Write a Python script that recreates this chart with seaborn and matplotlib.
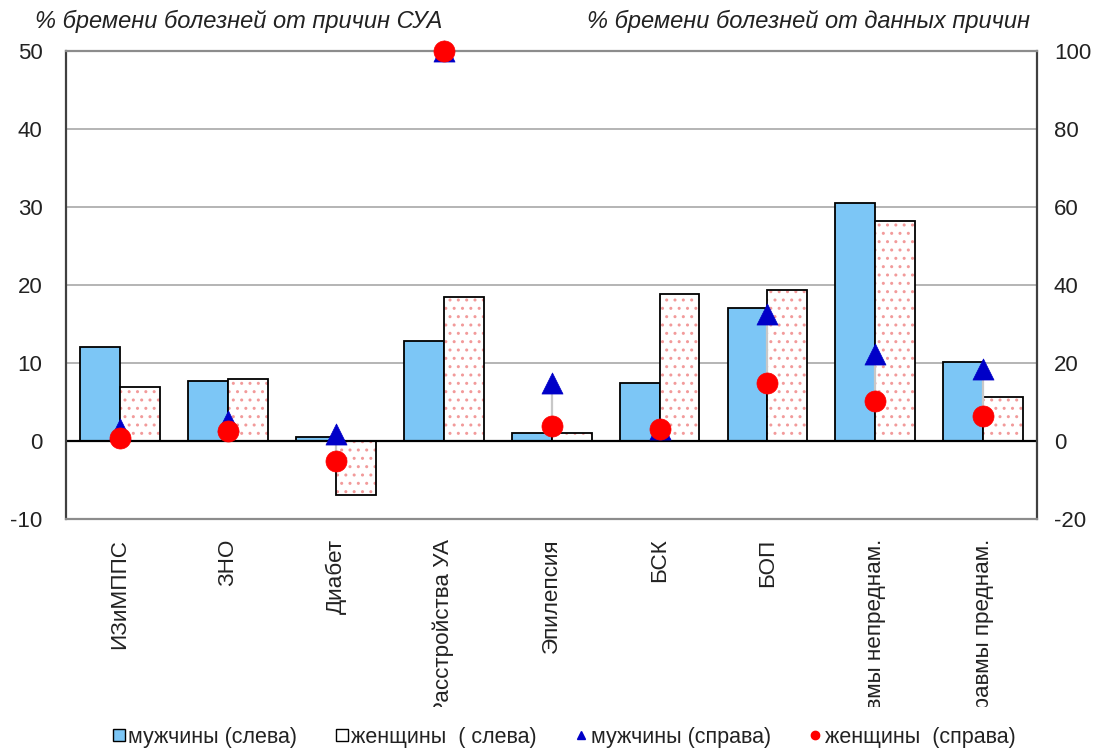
import matplotlib
matplotlib.use("Agg")
import matplotlib.pyplot as plt
from matplotlib.lines import Line2D
from matplotlib.patches import Rectangle
from matplotlib.transforms import Bbox
import numpy as np
import pandas as pd
import seaborn as sns

causes = ["ИЗиМППС", "ЗНО", "Диабет", "Расстройства УА", "Эпилепсия",
          "БСК", "БОП", "Травмы непреднам.", "Травмы преднам."]
# share of the disease burden attributable to alcohol (left axis)
men_left = [12.0, 7.7, 0.5, 12.8, 1.0, 7.4, 17.1, 30.5, 10.2]
women_left = [6.9, 8.0, -6.9, 18.5, 1.0, 18.9, 19.4, 28.2, 5.6]
# share of the burden of each cause attributable to alcohol (right axis)
men_right = [3.1, 5.1, 1.8, 100.0, 15.0, 3.2, 32.5, 22.3, 18.4]
women_right = [0.8, 2.6, -5.1, 100.0, 3.9, 3.2, 14.9, 10.3, 6.4]

sex_labels = ["мужчины", "женщины"]
left_title = "% бремени болезней от причин СУА"
right_title = "% бремени болезней от данных причин"
legend_labels = ["мужчины (слева)", "женщины  ( слева)",
                 "мужчины (справа)", "женщины  (справа)"]

blue_bar = "#7CC6F6"
dot_pink = "#F29A9A"
tri_blue = "#0000C8"
dot_red = "#FF0000"

sns.set_theme(style="white")
plt.rcParams["font.family"] = ["Liberation Sans", "DejaVu Sans"]
plt.rcParams["hatch.linewidth"] = 1.0
plt.rcParams["axes.unicode_minus"] = False

df = pd.DataFrame({
    "cause": causes * 2,
    "value": men_left + women_left,
    "sex": [sex_labels[0]] * len(causes) + [sex_labels[1]] * len(causes),
})

fig = plt.figure(figsize=(10.96, 7.53), dpi=100)
ax = fig.add_axes([0.0602, 0.3104, 0.8862, 0.6223])

sns.barplot(data=df, x="cause", y="value", hue="sex", order=causes,
            hue_order=sex_labels, palette=[blue_bar, "white"], saturation=1,
            width=0.74, gap=0, edgecolor="black", linewidth=1.3,
            legend=False, errorbar=None, ax=ax, zorder=2)

# dotted fill for the women's bars with a black outline on top
n = len(causes)
women_patches = ax.patches[n:2 * n]
for p in women_patches:
    p.set_hatch("..")
    p.set_edgecolor(dot_pink)
    p.set_linewidth(0)
    ax.add_patch(Rectangle(p.get_xy(), p.get_width(), p.get_height(),
                           fill=False, edgecolor="black", linewidth=1.3,
                           zorder=2.1))

ax.set_xlim(-0.5, n - 0.5)
ax.set_ylim(-10, 50)
ax.set_yticks(np.arange(-10, 51, 10))
ax.yaxis.grid(True, color="#A8A8A8", linewidth=1.2, zorder=0)
ax.set_axisbelow(True)
ax.axhline(0, color="black", linewidth=1.6, zorder=2.5)
ax.set_xlabel("")
ax.set_ylabel("")
ax.tick_params(axis="both", length=0, labelsize=16, colors="#222222")
ax.tick_params(axis="y", pad=17)
ax.tick_params(axis="x", pad=14)
ax.set_xticks(range(n))
ax.set_xticklabels(causes, rotation=90, va="top", ha="center", fontsize=16.2)

for side in ("left", "right"):
    ax.spines[side].set_color("#404040")
    ax.spines[side].set_linewidth(1.6)
for side in ("top", "bottom"):
    ax.spines[side].set_color("#8C8C8C")
    ax.spines[side].set_linewidth(1.6)

# right-hand axis with the per-cause shares
ax2 = ax.twinx()
ax2.set_ylim(-20, 100)
ax2.set_yticks(np.arange(-20, 101, 20))
ax2.tick_params(axis="y", length=0, labelsize=16, colors="#222222", pad=12)
for side in ax2.spines:
    ax2.spines[side].set_visible(False)

xpos = np.arange(n)
ax2.vlines(xpos, women_right, men_right, color="#C8C8C8", linewidth=1.6,
           zorder=3)
sns.scatterplot(x=xpos, y=men_right, marker="^", s=230, color=tri_blue,
                edgecolor=tri_blue, linewidth=0.5, ax=ax2, zorder=4,
                clip_on=False)
sns.scatterplot(x=xpos, y=women_right, marker="o", s=230, color=dot_red,
                edgecolor=dot_red, linewidth=0.5, ax=ax2, zorder=5,
                clip_on=False)
ax2.set_ylabel("")

fig.text(0.032, 0.972, left_title, style="italic", fontsize=17,
         color="#222222", ha="left", va="center")
fig.text(0.94, 0.972, right_title, style="italic", fontsize=17,
         color="#222222", ha="right", va="center")

# category labels are cut off just above the legend
fig.canvas.draw()
clip = Bbox.from_extents(0, 46, 1096, 753)
for lbl in ax.get_xticklabels():
    lbl.set_clip_on(True)
    lbl.set_clip_box(clip)

handles = [
    Line2D([], [], linestyle="none", marker="s", markersize=8,
           markerfacecolor=blue_bar, markeredgecolor="black", markeredgewidth=1),
    Line2D([], [], linestyle="none", marker="s", markersize=8,
           markerfacecolor="white", markeredgecolor="black", markeredgewidth=1),
    Line2D([], [], linestyle="none", marker="^", markersize=6,
           markerfacecolor=tri_blue, markeredgecolor=tri_blue),
    Line2D([], [], linestyle="none", marker="o", markersize=6,
           markerfacecolor=dot_red, markeredgecolor=dot_red),
]
fig.legend(handles, legend_labels, loc="center", bbox_to_anchor=(0.515, 0.021),
           ncol=4, frameon=False, fontsize=15.5, handlelength=0.5,
           handletextpad=0.2, columnspacing=1.8, labelcolor="#222222")

fig.savefig("out.png", dpi=100)
